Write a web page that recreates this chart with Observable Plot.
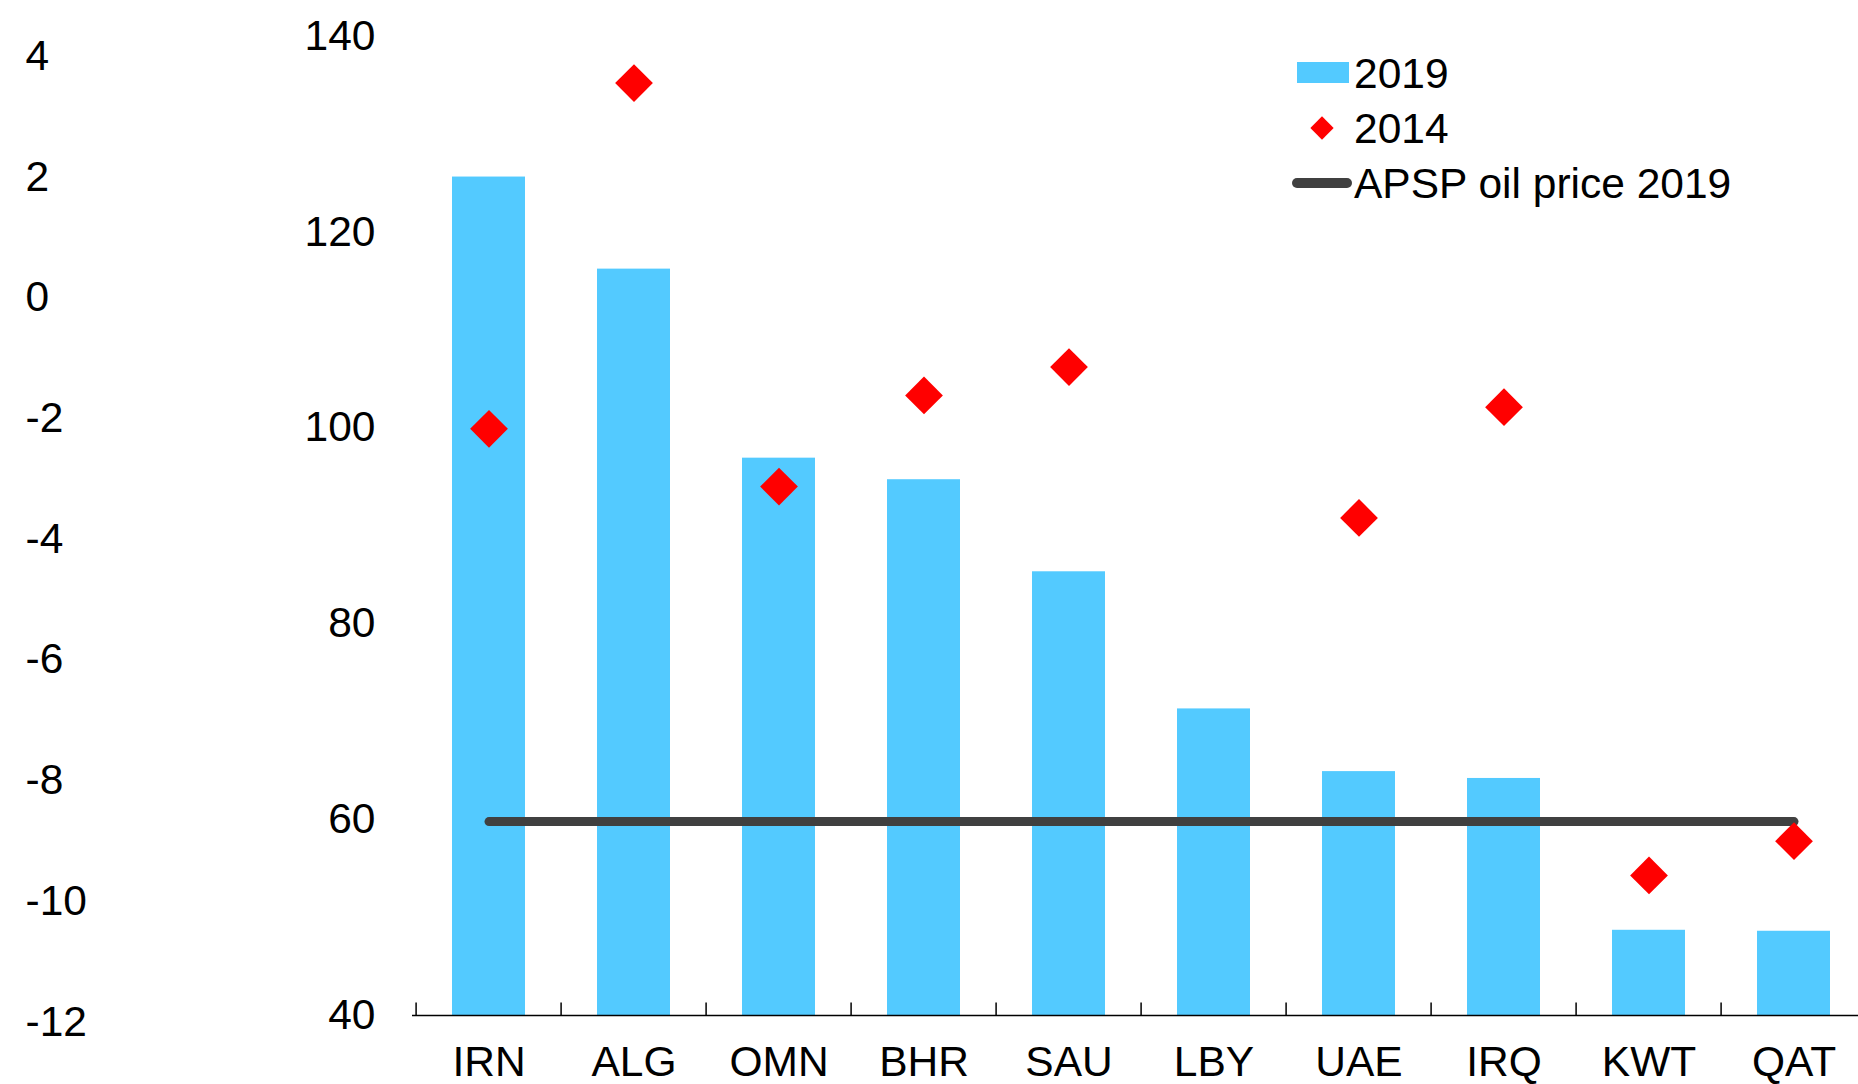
<!DOCTYPE html>
<html>
<head>
<meta charset="utf-8">
<script src="https://cdn.jsdelivr.net/npm/d3@7"></script>
<script src="https://cdn.jsdelivr.net/npm/@observablehq/plot@0.6"></script>
<style>
  html, body { margin: 0; padding: 0; background: #fff; overflow: hidden; }
  #wrap { position: relative; width: 1858px; height: 1084px; overflow: hidden; font-family: "Liberation Sans", Arial, sans-serif; }
  #wrap > svg { position: absolute; left: 0; top: 0; max-width: none !important; }
</style>
</head>
<body>
<div id="wrap"></div>
<script>
// ---- data ----
const categories = ["IRN", "ALG", "OMN", "BHR", "SAU", "LBY", "UAE", "IRQ", "KWT", "QAT"];
const values2019 = [125.6, 116.2, 96.9, 94.7, 85.3, 71.3, 64.9, 64.2, 48.7, 48.6];
const values2014 = [99.9, 135.2, 94.0, 103.3, 106.2, null, 90.8, 102.1, 54.3, 57.8];
const apspPrice2019 = 59.8;
const yTicks = [40, 60, 80, 100, 120, 140];
const leftTicks = [-12, -10, -8, -6, -4, -2, 0, 2, 4];
const legendLabels = ["2019", "2014", "APSP oil price 2019"];

// ---- layout ----
const FONT = '"Liberation Sans", Arial, sans-serif';
const FS = 42.5;
const W = 1870, H = 1084;
const mL = 412, mR = 0, mT = 35.5, mB = 69;
const step = (W - mL - mR) / categories.length;
const pxPerUnit = (H - mT - mB) / (140 - 40);
const tickLen = 12.5;

const rows = categories.map((c, i) => ({cat: c, v2019: values2019[i], v2014: values2014[i], apsp: apspPrice2019}));

const main = Plot.plot({
  width: W, height: H,
  marginLeft: mL, marginRight: mR, marginTop: mT, marginBottom: mB,
  style: {fontFamily: FONT, fontSize: FS + "px", color: "#000", background: "transparent", overflow: "visible", maxWidth: "none"},
  x: {type: "band", domain: categories, paddingInner: 0.5, paddingOuter: 0.25, align: 0.5, axis: null},
  y: {domain: [40, 140], axis: null},
  marks: [
    Plot.barY(rows, {x: "cat", y1: 40, y2: "v2019", fill: "#53caff"}),
    Plot.ruleX(rows, {x: "cat", dx: -step / 2, y1: 40, y2: 40 + tickLen / pxPerUnit, stroke: "#000", strokeWidth: 1.5}),
    Plot.ruleY([40], {stroke: "#000", strokeWidth: 1.6}),
    Plot.lineY(rows, {x: "cat", y: "apsp", stroke: "#404040", strokeWidth: 9, strokeLinecap: "round"}),
    Plot.dot(rows.filter(d => d.v2014 != null), {x: "cat", y: "v2014", symbol: "diamond2", r: 17, fill: "#ff0000", stroke: "none"}),
    Plot.axisY({ticks: yTicks, tickSize: 0, tickPadding: 37, fontSize: FS, label: null, tickFormat: d => String(d)}),
    Plot.axisX({tickSize: 0, tickPadding: 30, fontSize: FS, label: null})
  ]
});

const left = Plot.plot({
  width: 220, height: H,
  marginLeft: 25, marginRight: 0, marginTop: 0, marginBottom: 0,
  style: {fontFamily: FONT, fontSize: FS + "px", color: "#000", background: "transparent", overflow: "visible", maxWidth: "none"},
  y: {domain: [-12, 4], range: [1021.5, 55.7], axis: null},
  marks: [
    Plot.text(leftTicks, {y: d => d, text: d => String(d), frameAnchor: "left", textAnchor: "start", fontSize: FS, fill: "#000"})
  ]
});

const wrap = document.getElementById("wrap");
wrap.appendChild(main);
wrap.appendChild(left);

// ---- legend ----
const lg = d3.select(wrap).append("svg")
  .attr("width", 1858).attr("height", 250)
  .style("position", "absolute").style("left", "0px").style("top", "0px").style("overflow", "visible");
lg.append("rect").attr("x", 1297).attr("y", 62).attr("width", 52).attr("height", 21).attr("fill", "#53caff");
lg.append("path").attr("d", d3.symbol(d3.symbolDiamond2, Math.PI * 10.5 * 10.5)()).attr("transform", "translate(1322,128)").attr("fill", "#ff0000");
lg.append("line").attr("x1", 1297).attr("x2", 1347).attr("y1", 183).attr("y2", 183)
  .attr("stroke", "#404040").attr("stroke-width", 10).attr("stroke-linecap", "round");
const ys = [73, 128, 183];
legendLabels.forEach((t, i) => {
  lg.append("text").attr("x", 1354).attr("y", ys[i]).attr("dy", "0.36em")
    .attr("font-family", FONT).attr("font-size", FS).attr("fill", "#000").text(t);
});
</script>
</body>
</html>
